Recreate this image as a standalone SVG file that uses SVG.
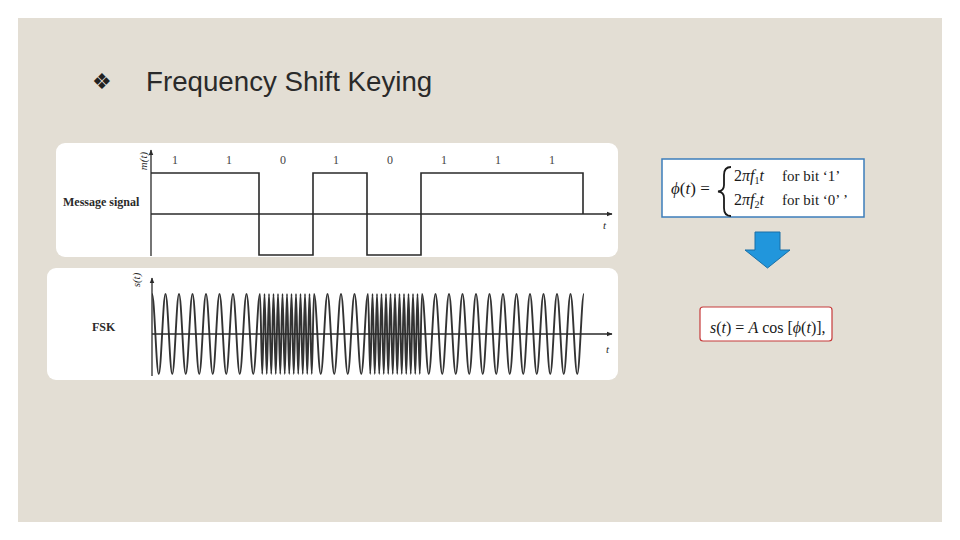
<svg xmlns="http://www.w3.org/2000/svg" xmlns:xlink="http://www.w3.org/1999/xlink" width="960" height="540" viewBox="0 0 960 540">
  <style>
    .panel { fill: #ffffff; }
    .ax { stroke: #2a2a2a; stroke-width: 1.3; fill: none; }
    .sig { stroke: #2a2a2a; stroke-width: 1.6; fill: none; }
    .wave { stroke: #333333; stroke-width: 1.9; fill: none; }
    .serif { font-family: "Liberation Serif", "DejaVu Serif", serif; fill: #2a2a2a; }
    .bit { font-size: 12px; text-anchor: middle; fill: #444; }
    .lbl { font-size: 12px; font-weight: bold; }
    .it { font-style: italic; }
    .eq { font-family: "Liberation Serif", "DejaVu Serif", serif; font-size: 15px; fill: #1a1a1a; }
  </style>
  <defs>
    <marker id="ah" viewBox="0 0 10 10" refX="9" refY="5" markerWidth="6" markerHeight="6" orient="auto" markerUnits="userSpaceOnUse">
      <path d="M0,1 L10,5 L0,9 Z" fill="#2a2a2a"/>
    </marker>
    <path id="lo" class="wave" d="M0,-40 c2.45,0 4.3,80 6.75,80 c2.45,0 4.3,-80 6.75,-80 c2.45,0 4.3,80 6.75,80 c2.45,0 4.3,-80 6.75,-80 c2.45,0 4.3,80 6.75,80 c2.45,0 4.3,-80 6.75,-80 c2.45,0 4.3,80 6.75,80 c2.45,0 4.3,-80 6.75,-80"/>
    <path id="hi" class="wave" d="M0,-40 c0.82,0 1.43,80 2.25,80 c0.82,0 1.43,-80 2.25,-80 c0.82,0 1.43,80 2.25,80 c0.82,0 1.43,-80 2.25,-80 c0.82,0 1.43,80 2.25,80 c0.82,0 1.43,-80 2.25,-80 c0.82,0 1.43,80 2.25,80 c0.82,0 1.43,-80 2.25,-80 c0.82,0 1.43,80 2.25,80 c0.82,0 1.43,-80 2.25,-80 c0.82,0 1.43,80 2.25,80 c0.82,0 1.43,-80 2.25,-80 c0.82,0 1.43,80 2.25,80 c0.82,0 1.43,-80 2.25,-80 c0.82,0 1.43,80 2.25,80 c0.82,0 1.43,-80 2.25,-80 c0.82,0 1.43,80 2.25,80 c0.82,0 1.43,-80 2.25,-80 c0.82,0 1.43,80 2.25,80 c0.82,0 1.43,-80 2.25,-80 c0.82,0 1.43,80 2.25,80 c0.82,0 1.43,-80 2.25,-80 c0.82,0 1.43,80 2.25,80 c0.82,0 1.43,-80 2.25,-80"/>
  </defs>

  <rect x="0" y="0" width="960" height="540" fill="#ffffff"/>
  <rect x="18" y="18" width="924" height="504" fill="#e3ded4"/>

  <g id="title">
    <text x="92" y="89" font-family="DejaVu Sans, sans-serif" font-size="22" fill="#222">❖</text>
    <text x="146" y="91" font-family="Liberation Sans, Arial, sans-serif" font-size="27.7" fill="#2a2a2a">Frequency Shift Keying</text>
  </g>

  <g id="panel-message">
    <rect class="panel" x="56" y="143" width="562" height="114" rx="9"/>
    <line class="ax" x1="151" y1="256" x2="151" y2="150" marker-end="url(#ah)"/>
    <line class="ax" x1="151" y1="214" x2="612" y2="214" marker-end="url(#ah)"/>
    <path class="sig" d="M151,173 H259 V255 H313 V173 H367 V255 H421 V173 H583 V214"/>
    <text class="serif it" font-size="11" text-anchor="middle" transform="translate(147,161) rotate(-90)">m(t)</text>
    <text class="serif lbl" x="63" y="206">Message signal</text>
    <text class="serif it" font-size="11" x="603" y="229">t</text>
    <g class="serif bit">
      <text x="175" y="164">1</text>
      <text x="229" y="164">1</text>
      <text x="283" y="164">0</text>
      <text x="336" y="164">1</text>
      <text x="390" y="164">0</text>
      <text x="444" y="164">1</text>
      <text x="498" y="164">1</text>
      <text x="552" y="164">1</text>
    </g>
  </g>

  <g id="panel-fsk">
    <rect class="panel" x="47" y="268" width="571" height="112" rx="9"/>
    <use xlink:href="#lo" href="#lo" x="152" y="334"/>
    <use xlink:href="#lo" href="#lo" x="206" y="334"/>
    <use xlink:href="#hi" href="#hi" x="260" y="334"/>
    <use xlink:href="#lo" href="#lo" x="314" y="334"/>
    <use xlink:href="#hi" href="#hi" x="368" y="334"/>
    <use xlink:href="#lo" href="#lo" x="422" y="334"/>
    <use xlink:href="#lo" href="#lo" x="476" y="334"/>
    <use xlink:href="#lo" href="#lo" x="530" y="334"/>
    <line class="ax" x1="152" y1="376" x2="152" y2="278" marker-end="url(#ah)"/>
    <line class="ax" x1="152" y1="334" x2="612" y2="334" marker-end="url(#ah)"/>
    <text class="serif it" font-size="11" text-anchor="middle" transform="translate(140,280) rotate(-90)">s(t)</text>
    <text class="serif lbl" x="92" y="331">FSK</text>
    <text class="serif it" font-size="11" x="606" y="353">t</text>
  </g>

  <g id="eq-phase">
    <rect x="662" y="159" width="202" height="58" fill="#ffffff" stroke="#3c7dba" stroke-width="1.5"/>
    <text class="eq" x="671" y="194" style="font-size:17px"><tspan class="it">ϕ</tspan>(<tspan class="it">t</tspan>) =</text>
    <path d="M731,167 Q724,167 724,175 L724,185 Q724,191 718,191.5 Q724,192 724,198 L724,208 Q724,216 731,216" fill="none" stroke="#1a1a1a" stroke-width="1.8"/>
    <text class="eq" x="734" y="181" style="font-size:16px">2<tspan class="it">πf</tspan><tspan style="font-size:10px" dy="3">1</tspan><tspan class="it" dy="-3">t</tspan></text>
    <text class="eq" x="782" y="181">for bit ‘1’</text>
    <text class="eq" x="734" y="205" style="font-size:16px">2<tspan class="it">πf</tspan><tspan style="font-size:10px" dy="3">2</tspan><tspan class="it" dy="-3">t</tspan></text>
    <text class="eq" x="782" y="205">for bit ‘0’ ’</text>
  </g>

  <g id="connectors">
    <path d="M755,232 H780 V250 H790 L767.5,268 L745,250 H755 Z" fill="#2196dc" stroke="#1a6fa6" stroke-width="1"/>
  </g>

  <g id="eq-signal">
    <rect x="700" y="307" width="132" height="34" rx="3" fill="#ffffff" stroke="#c63a3a" stroke-width="1.2"/>
    <text class="eq" x="710" y="333" style="font-size:16px"><tspan class="it">s</tspan>(<tspan class="it">t</tspan>) = <tspan class="it">A</tspan> cos [<tspan class="it">ϕ</tspan>(<tspan class="it">t</tspan>)],</text>
  </g>
</svg>
